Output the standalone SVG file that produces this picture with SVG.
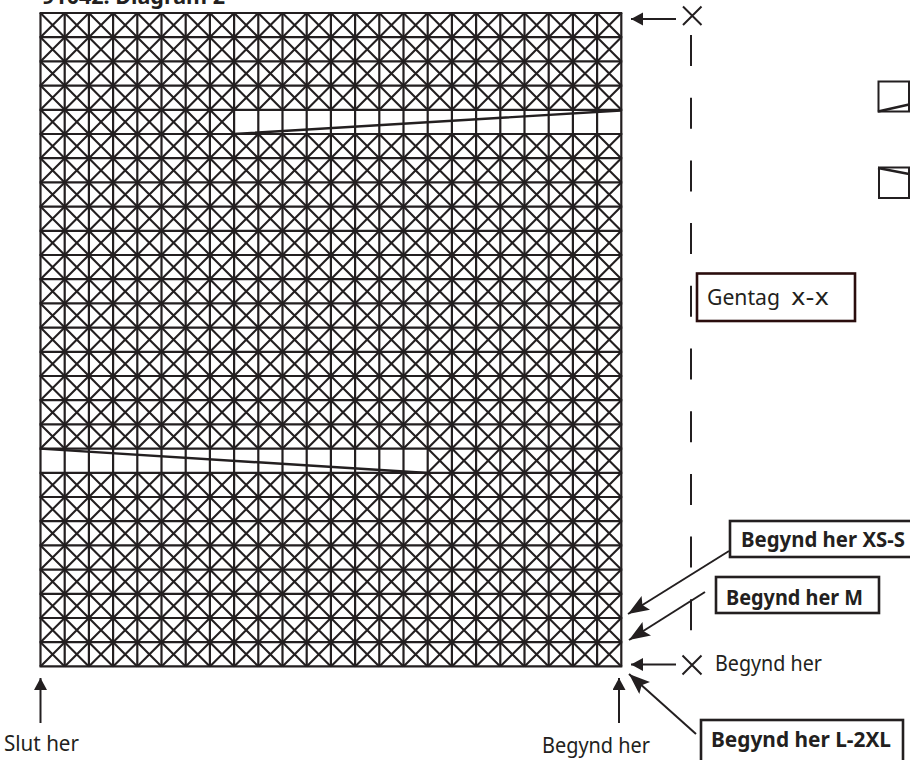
<svg xmlns="http://www.w3.org/2000/svg" xmlns:xlink="http://www.w3.org/1999/xlink" width="910" height="760" viewBox="0 0 910 760">
<style>
.l{stroke:#231f20;stroke-width:2.2;fill:none}
.x{stroke:#231f20;stroke-width:2.1;fill:none}
.box{fill:#fff;stroke:#231f20;stroke-width:2.6}
.c{stroke:#231f20;stroke-width:2;fill:none}
.t{font-family:"Noto Sans","Liberation Sans",sans-serif;font-size:22.5px;fill:#231f20}
.b{font-weight:700;font-size:22px}
</style>
<defs>
<marker id="ah" markerUnits="userSpaceOnUse" markerWidth="24" markerHeight="18" refX="21" refY="8" orient="auto"><path d="M0 0L21 8L0 16L4 8Z" fill="#231f20"/></marker>
<marker id="as" markerUnits="userSpaceOnUse" markerWidth="14" markerHeight="16" refX="12" refY="6.5" orient="auto"><path d="M0 0L12 6.5L0 13Z" fill="#231f20"/></marker>
<path id="c" d="M0 0L24.2 24.2M24.2 0L0 24.2"/>
<g id="c4"><use xlink:href="#c"/><use xlink:href="#c" x="24.2"/><use xlink:href="#c" x="48.4"/><use xlink:href="#c" x="72.6"/></g>
<g id="c8"><use xlink:href="#c4"/><use xlink:href="#c4" x="96.8"/></g>
<g id="c16"><use xlink:href="#c8"/><use xlink:href="#c8" x="193.6"/></g>
<g id="r"><use xlink:href="#c16"/><use xlink:href="#c8" x="387.2"/></g>
<g id="r4"><use xlink:href="#r"/><use xlink:href="#r" y="24.2"/><use xlink:href="#r" y="48.4"/><use xlink:href="#r" y="72.6"/></g>
</defs>
<rect width="910" height="760" fill="#fff"/>
<text class="t b" x="42" y="4" textLength="183" lengthAdjust="spacingAndGlyphs">91042. Diagram 2</text>
<g id="grid">
<g class="x" transform="translate(40.5 13)">
<use xlink:href="#r4"/>
<use xlink:href="#c8" y="96.8"/>
<use xlink:href="#r4" y="121"/>
<use xlink:href="#r4" y="217.8"/>
<use xlink:href="#r4" y="314.6"/>
<use xlink:href="#r" y="411.4"/>
<use xlink:href="#c8" x="387.2" y="435.6"/>
<use xlink:href="#r" y="459.8"/><use xlink:href="#r" y="484"/><use xlink:href="#r" y="508.2"/><use xlink:href="#r" y="532.4"/>
<use xlink:href="#r" y="556.6"/><use xlink:href="#r" y="580.8"/><use xlink:href="#r" y="605"/><use xlink:href="#r" y="629.2"/>
</g>
<path class="l" d="M40.5 13V666.4M64.7 13V666.4M88.9 13V666.4M113.1 13V666.4M137.3 13V666.4M161.5 13V666.4M185.7 13V666.4M209.9 13V666.4M234.1 13V666.4M258.3 13V666.4M282.5 13V666.4M306.7 13V666.4M330.9 13V666.4M355.1 13V666.4M379.3 13V666.4M403.5 13V666.4M427.7 13V666.4M451.9 13V666.4M476.1 13V666.4M500.3 13V666.4M524.5 13V666.4M548.7 13V666.4M572.9 13V666.4M597.1 13V666.4M621.3 13V666.4"/>
<path class="l" d="M39.5 13H622.3M39.5 37.2H622.3M39.5 61.4H622.3M39.5 85.6H622.3M39.5 109.8H622.3M39.5 134H622.3M39.5 158.2H622.3M39.5 182.4H622.3M39.5 206.6H622.3M39.5 230.8H622.3M39.5 255H622.3M39.5 279.2H622.3M39.5 303.4H622.3M39.5 327.6H622.3M39.5 351.8H622.3M39.5 376H622.3M39.5 400.2H622.3M39.5 424.4H622.3M39.5 448.6H622.3M39.5 472.8H622.3M39.5 497H622.3M39.5 521.2H622.3M39.5 545.4H622.3M39.5 569.6H622.3M39.5 593.8H622.3M39.5 618H622.3M39.5 642.2H622.3M39.5 666.4H622.3"/>
<path d="M234 134L621 110.5M40 448.6L428 473" stroke="#231f20" stroke-width="2.4" fill="none"/>
</g>
<g id="repeat-line"><path d="M691 35V66M691 97.7V128.7M691 160.4V191.4M691 223.1V254.1M691 285.8V316.8M691 348.5V379.5M691 411.2V442.2M691 473.9V504.9M691 536.6V567.6M691 599.3V630.3" stroke="#231f20" stroke-width="2" fill="none"/></g>
<g id="connectors">
<path class="c" d="M676 19H631" marker-end="url(#as)"/>
<path class="c" d="M676 664.5H631" marker-end="url(#as)"/>
<path class="c" d="M729 551L628 614" marker-end="url(#ah)"/>
<path class="c" d="M705 592L629 640" marker-end="url(#ah)"/>
<path class="c" d="M696 734L629 674" marker-end="url(#ah)"/>
<path class="c" d="M619 723V678" marker-end="url(#as)"/>
<path class="c" d="M40.5 723V678" marker-end="url(#as)"/>
</g>
<g id="mark-top"><path class="c" d="M683 6.5L701.5 25M701.5 6.5L683 25"/></g>
<g id="mark-start"><path class="c" d="M682.5 655.5L701.5 674.5M701.5 655.5L682.5 674.5"/><text class="t" x="715" y="671" textLength="107" lengthAdjust="spacingAndGlyphs">Begynd her</text></g>
<g id="sym-1"><rect x="878.5" y="81.5" width="30.5" height="30" fill="none" stroke="#231f20" stroke-width="2"/><path d="M878 111.5L909 104.5" stroke="#231f20" stroke-width="2.4" fill="none"/></g>
<g id="sym-2"><rect x="879" y="167.5" width="30" height="30.5" fill="none" stroke="#231f20" stroke-width="2"/><path d="M878 168L909 174" stroke="#231f20" stroke-width="2.4" fill="none"/></g>
<g id="repeat"><rect class="box" x="697" y="273.5" width="158" height="47.5" style="stroke:#2a0d0d"/><text class="t" x="707" y="305" textLength="73" lengthAdjust="spacingAndGlyphs">Gentag</text><text class="t" x="791" y="305" textLength="38" lengthAdjust="spacingAndGlyphs" style="font-family:'DejaVu Sans',sans-serif">x-x</text></g>
<g id="start-xs"><rect class="box" x="730" y="521" width="190" height="36"/><text class="t b" x="741" y="547" textLength="164" lengthAdjust="spacingAndGlyphs">Begynd her XS-S</text></g>
<g id="start-m"><rect class="box" x="716" y="577" width="163" height="36"/><text class="t b" x="726" y="605" textLength="137" lengthAdjust="spacingAndGlyphs">Begynd her M</text></g>
<g id="start-l"><rect class="box" x="701" y="720" width="202" height="50"/><text class="t b" x="711" y="747" textLength="180" lengthAdjust="spacingAndGlyphs">Begynd her L-2XL</text></g>
<g id="end-label"><text class="t" x="4" y="751" textLength="75" lengthAdjust="spacingAndGlyphs">Slut her</text></g>
<g id="start-label"><text class="t" x="542" y="753" textLength="108" lengthAdjust="spacingAndGlyphs">Begynd her</text></g>
</svg>
